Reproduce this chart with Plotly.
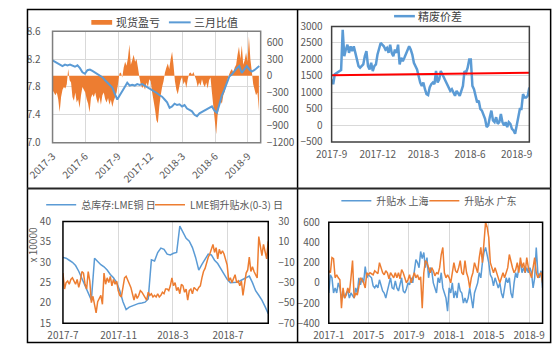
import pandas as pd
import plotly.graph_objects as go

W, H = 556, 352

# ---------------- Panel 1: 现货盈亏 (area, right axis) & 三月比值 (line, left axis)
spot_pl = [-260, -300, -350, -300, -420, -650, -380, -250, -200, -230, -150, 120, -80, -120, -380,
           -450, -300, -480, -420, -580, -350, -200, -250, -300, -420, -500, -660, -400, -330, -380,
           -300, -420, -500, -380, -520, -350, -300, -420, -480, -400, -520, -430, -560, -450, -380,
           -300, -150, 40, 60, -30, 150, 250, 180, 320, 560, 200, 280, 380, 250, 300,
           150, -20, -150, -220, -180, -250, -120, -200, -60, -100, -300, -450, -600, -800, -850,
           -550, -350, -200, -100, 60, 150, 220, 120, 300, 430, 200, -100, -250, -330, -200,
           -80, -20, -150, -100, -220, -60, 40, 60, 20, 70, -10, -80, -200, -120, -180,
           -60, -150, -200, -120, -230, -80, -30, -300, -550, -800, -1050, -700, -550, -450, -500,
           -350, -280, -150, -60, 20, 80, 120, 60, 150, 200, 380, 520, 300, 550, 200,
           280, 420, 250, 700, 300, 80, -150, -250, -350, -300, -630]
ratio_3m = [8.18, 8.16, 8.13, 8.11, 8.10, 8.12, 8.11, 8.12, 8.10, 8.09, 8.11, 8.07, 8.01, 7.99, 8.04,
            8.05, 8.03, 8.01, 7.98, 7.96, 7.94, 7.90, 7.86, 7.82, 7.79, 7.70, 7.62, 7.68, 7.75, 7.80,
            7.86, 7.82, 7.83, 7.82, 7.84, 7.83, 7.84, 7.82, 7.80, 7.78, 7.76, 7.73, 7.71, 7.68, 7.66,
            7.62, 7.58, 7.50, 7.52, 7.56, 7.54, 7.55, 7.52, 7.54, 7.49, 7.47, 7.45, 7.40, 7.38, 7.42,
            7.44, 7.46, 7.47, 7.50, 7.52, 7.46, 7.43, 7.55, 7.68, 7.76, 7.87, 7.95, 7.98, 8.03, 8.07,
            8.10, 8.00, 8.05, 8.10, 8.05, 8.02, 8.04, 8.07, 8.10]
p1_ticks = ['2017-03-01', '2017-06-01', '2017-09-01', '2017-12-01', '2018-03-01', '2018-06-01', '2018-09-01']
p1_ticktext = ['2017-3', '2017-6', '2017-9', '2017-12', '2018-3', '2018-6', '2018-9']

# ---------------- Panel 2: 精废价差
scrap_spread = [1400, 1250, 1550, 1580, 1600, 1650, 1680, 2900, 2100, 2300, 2450, 2200, 2400, 2250, 2400,
                2200, 2000, 1800, 1750, 1800, 1850, 2100, 2250, 1800, 1700, 1900, 1650, 1800, 1850, 2150,
                2300, 2500, 2450, 2400, 2300, 2350, 2200, 2450, 2200, 2100, 2300, 2200, 2450, 1850, 2050,
                1950, 2050, 2150, 2250, 2400, 2300, 2150, 1900, 1800, 1700, 1500, 1300, 1200, 1300, 1100,
                950, 920, 1150, 1250, 1300, 1250, 1650, 1300, 1400, 1650, 1550, 1450, 1300, 1200, 1100,
                1050, 1100, 1000, 900, 1050, 950, 900, 1050, 1200, 1650, 1600, 1750, 2000, 2000, 1200,
                1100, 900, 700, 750, 500, 450, 300, 200, -50, 0, 250, 450, 150, 100, 250,
                50, 100, 350, 100, 0, 100, -50, 100, 50, -100, -150, -250, 0, 300, 500,
                500, 950, 850, 850, 900, 1150]
trend_dates = ['2017-09-01', '2018-09-26']
trend_vals = [1525, 1600]
p2_ticks = ['2017-09-01', '2017-12-01', '2018-03-01', '2018-06-01', '2018-09-01']
p2_ticktext = ['2017-9', '2017-12', '2018-3', '2018-6', '2018-9']

# ---------------- Panel 3: 总库存:LME铜 (x10000, left) & LME铜升贴水(0-3) (right)
lme_stock = [31.2, 31.0, 30.5, 30.0, 29.2, 27.8, 26.0, 24.2, 22.3, 20.7, 31.0, 30.2, 29.4, 28.9, 28.1,
             27.0, 26.2, 25.0, 23.0, 20.3, 18.4, 19.0, 19.3, 19.7, 19.9, 20.0, 20.2, 21.0, 30.6, 30.3,
             32.4, 33.5, 33.2, 32.0, 31.8, 32.2, 32.4, 38.9, 37.5, 35.9, 35.2, 33.6, 31.2, 28.1, 29.5,
             30.8, 32.0, 31.8, 30.5, 29.7, 28.5, 27.0, 25.8, 25.0, 25.0, 25.1, 25.4, 25.8, 26.3, 26.6,
             25.0, 23.0, 21.9, 20.7, 19.1, 17.4]
lme_spread = [-20.6, -36.3, -30.0, -28.4, -31.6, -26.9, -25.3, -28.4, -31.6, -26.9, -34.7, -28.4, -19.1, -20.6, -31.6,
              -36.3, -19.1, -28.4, -49.7, -43.4, -51.3, -59.7, -48.8, -45.6, -42.5, -51.3, -20.6, -31.6, -25.3, -30.0,
              -23.8, -33.1, -26.9, -31.6, -28.4, -37.8, -42.5, -44.1, -34.7, -25.3, -23.8, -26.9, -31.6, -34.7, -40.9,
              -47.2, -40.9, -45.6, -42.5, -37.8, -39.4, -42.5, -45.6, -47.2, -39.4, -42.5, -40.9, -44.1, -42.5, -44.1,
              -40.9, -44.1, -42.5, -39.4, -40.9, -36.3, -36.3, -37.8, -33.1, -25.3, -33.1, -30.0, -37.8, -34.7, -40.9,
              -31.6, -33.1, -39.4, -36.3, -47.2, -37.8, -36.3, -40.9, -34.7, -36.3, -37.8, -34.7, -33.1, -25.3, -19.1,
              -16.0, -9.7, -5.0, -1.9, 2.8, 7.5, -0.3, 4.4, -6.6, 2.8, -1.9, 1.3, -1.9, -6.6, -12.8,
              -28.4, -25.3, -30.0, -25.3, -22.2, -30.0, -28.4, -33.1, -28.4, -42.5, -28.4, -20.6, -17.5, -5.0, -19.1,
              -14.4, -19.1, -22.2, -25.3, 15.3, 4.4, -3.4, 7.5, -0.3, -6.6, 10.6]
p3_ticks = ['2017-07-01', '2017-11-01', '2018-03-01', '2018-07-01']
p3_ticktext = ['2017-7', '2017-11', '2018-3', '2018-7']

# ---------------- Panel 4: 升贴水 上海 / 广东
basis_sh = [-100, 80, 50, -100, -50, -100, 0, -50, -150, -100, -150, -100, -80, -150, -100,
            -120, -150, -50, -100, 50, -20, 50, 0, 160, 50, 80, 60, 50, -30, -50,
            -20, -50, 30, -20, -80, -100, -150, -80, -20, 50, -50, -60, 20, -50, -80,
            0, 50, -80, -100, -60, 0, -20, 50, 0, 100, 230, 200, 150, 310, 240,
            300, 150, 250, 50, 150, 120, 0, -50, -100, 50, 0, 100, -50, -100, -150,
            -280, -50, -100, 0, -150, -80, -150, 0, -80, -100, -200, -150, -200, -150, -50,
            -150, -250, -100, -50, 0, 100, 50, 200, 300, 350, 280, 200, 80, 50, -30,
            50, 0, -50, 0, -100, -150, -50, 50, 0, 50, -100, -150, 0, 100, 50,
            150, 200, 100, 150, 100, 150, 100, 150, 100, -50, 50, 350, 100, 50, 120,
            -50]
basis_gd = [120, 100, 250, 240, 50, 80, 50, 30, -250, -50, -150, -120, -50, -100, 50,
            220, -150, -100, -120, -50, 50, 30, 0, -50, 100, 80, 100, 90, 80, 120,
            100, 90, 200, 150, 100, 80, 120, 100, 40, 100, 80, 50, 100, 50, 100,
            40, 130, 100, 50, 0, 30, 80, 0, 50, 100, 50, 80, 30, 60, -250,
            100, 220, 200, 150, 100, 150, 120, 70, 100, 90, 150, 280, 350, 100, 50,
            80, 50, 0, 100, 200, 120, 100, 150, 220, 100, 80, 220, 100, 50, -50,
            50, 100, 200, 150, 100, 250, 350, 200, 450, 600, 550, 450, 200, 150, 100,
            150, 100, 50, 0, 50, 100, 50, 100, 150, 280, 200, 150, 100, 130, 200,
            100, 250, 150, 200, 100, 250, 150, 100, 50, 150, 250, 100, 50, 80, 100,
            0]
p4_ticks = ['2017-01-01', '2017-05-01', '2017-09-01', '2018-01-01', '2018-05-01', '2018-09-01']
p4_ticktext = ['2017-1', '2017-5', '2017-9', '2018-1', '2018-5', '2018-9']

# ---------------- dates
d_spot = pd.date_range('2017-03-01', periods=len(spot_pl), freq='4D')
d_ratio = pd.date_range('2017-03-01', periods=len(ratio_3m), freq='7D')
d_scrap = pd.date_range('2017-09-01', '2018-09-26', periods=len(scrap_spread))
d_stock = pd.date_range('2017-07-01', '2018-09-28', periods=len(lme_stock))
d_lspread = pd.date_range('2017-07-01', '2018-09-28', periods=len(lme_spread))
d_sh = pd.date_range('2017-01-01', '2018-10-12', periods=len(basis_sh))
d_gd = pd.date_range('2017-01-01', '2018-10-12', periods=len(basis_gd))

BLUE = '#5B9BD5'
ORANGE = '#ED7D31'
GRID = '#D9D9D9'
TICK = '#595959'
FONT = 'Noto Sans CJK SC'


def xd(a, b):
    return [a / W, b / W]


def yd(top, bottom):
    return [1 - bottom / H, 1 - top / H]


fig = go.Figure()

# Panel 1
fig.add_trace(go.Scatter(x=d_spot, y=spot_pl, name='现货盈亏', mode='none', fill='tozeroy',
                         fillcolor=ORANGE, xaxis='x', yaxis='y', showlegend=False))
fig.add_trace(go.Scatter(x=d_ratio, y=ratio_3m, name='三月比值', mode='lines',
                         line=dict(color=BLUE, width=2), xaxis='x', yaxis='y2', showlegend=False))
# Panel 2
fig.add_trace(go.Scatter(x=d_scrap, y=scrap_spread, name='精废价差', mode='lines',
                         line=dict(color=BLUE, width=2.5), xaxis='x2', yaxis='y3', showlegend=False))
fig.add_trace(go.Scatter(x=trend_dates, y=trend_vals, mode='lines', showlegend=False,
                         line=dict(color='#FF0000', width=2), xaxis='x2', yaxis='y3'))
# Panel 3
fig.add_trace(go.Scatter(x=d_stock, y=lme_stock, name='总库存:LME铜 日', mode='lines',
                         line=dict(color=BLUE, width=1.5), xaxis='x3', yaxis='y4', legend='legend'))
fig.add_trace(go.Scatter(x=d_lspread, y=lme_spread, name='LME铜升贴水(0-3) 日', mode='lines',
                         line=dict(color=ORANGE, width=1.5), xaxis='x3', yaxis='y5', legend='legend2'))
# Panel 4
fig.add_trace(go.Scatter(x=d_sh, y=basis_sh, name='升贴水 上海', mode='lines',
                         line=dict(color=BLUE, width=1.5), xaxis='x4', yaxis='y6', legend='legend3'))
fig.add_trace(go.Scatter(x=d_gd, y=basis_gd, name='升贴水 广东', mode='lines',
                         line=dict(color=ORANGE, width=1.5), xaxis='x4', yaxis='y6', legend='legend4'))

tickfont = dict(family=FONT, size=10, color=TICK)


def xax(dom, anchor, rng, tv, tt, grid, angle=0):
    return dict(domain=dom, anchor=anchor, type='date', range=rng, tickvals=tv, ticktext=tt,
                showgrid=grid, gridcolor=GRID, gridwidth=1, tickangle=angle, ticks='',
                tickfont=tickfont, showline=False, zeroline=False, ticklabelstandoff=5)


def yax(dom, anchor, rng, tv, grid, side='left', overlaying=None, standoff=8, fmt=''):
    d = dict(domain=dom, anchor=anchor, range=rng, tickvals=tv, showgrid=grid, gridcolor=GRID,
             side=side, ticks='', tickfont=tickfont, showline=False, zeroline=False,
             ticklabelstandoff=standoff, tickformat=fmt)
    if overlaying:
        d['overlaying'] = overlaying
        d.pop('domain')
    return d


fig.update_layout(
    width=W, height=H, margin=dict(l=0, r=0, t=0, b=0),
    paper_bgcolor='white', plot_bgcolor='white',
    xaxis=xax(xd(27, 247), 'y', ['2017-03-01', '2018-10-07'], p1_ticks, p1_ticktext, True, -45),
    yaxis=yax(yd(23.3, 140), 'x', [-1200, 800], [-1200, -900, -600, -300, 0, 300, 600], False,
              side='right', standoff=5),
    yaxis2=yax(None, 'x', [7.0, 8.6], [7.0, 7.4, 7.8, 8.2, 8.6], True, side='left',
               overlaying='y', standoff=11, fmt='.1f'),
    xaxis2=xax(xd(322, 531), 'y3', ['2017-09-01', '2018-09-26'], p2_ticks, p2_ticktext, False),
    yaxis3=yax(yd(18.3, 139.3), 'x2', [-500, 3000], [-500, 0, 500, 1000, 1500, 2000, 2500, 3000],
               True, standoff=8),
    xaxis3=xax(xd(38, 255), 'y4', ['2017-07-01', '2018-09-28'], p3_ticks, p3_ticktext, True),
    yaxis4=yax(yd(222.7, 329.3), 'x3', [15, 40], [15, 20, 25, 30, 35, 40], False, standoff=11),
    yaxis5=yax(None, 'x3', [-70, 30], [-70, -50, -30, -10, 10, 30], False, side='right',
               overlaying='y4', standoff=9),
    xaxis4=xax(xd(319, 545), 'y6', ['2017-01-01', '2018-10-12'], p4_ticks, p4_ticktext, True),
    yaxis6=yax(yd(223.3, 329.3), 'x4', [-400, 600], [-400, -200, 0, 200, 400, 600], False,
               standoff=8),
)

# bottom panels: one plotly legend per item (x given as legend-box left in px)
legfont = dict(family=FONT, size=10, color=TICK)
common = dict(orientation='h', xanchor='left', yanchor='middle', bgcolor='rgba(0,0,0,0)',
              itemwidth=30, tracegroupgap=0)
leg_pos = {
    'legend': (15, 205),
    'legend2': (130, 205),
    'legend3': (327, 201),
    'legend4': (420, 201),
}
for key, (lx, ly) in leg_pos.items():
    fig.update_layout({key: dict(x=lx / W, y=1 - ly / H, font=legfont, **common)})

# top panels: legend keys drawn as swatch + text (the plotly legend box cannot reach the top edge)
legfont_dark = dict(family=FONT, size=11, color='#404040')
fig.add_shape(type='rect', xref='paper', yref='paper', x0=68 / W, x1=90 / W,
              y0=1 - 16.5 / H, y1=1 - 11.5 / H, line=dict(width=0), fillcolor=ORANGE)
fig.add_annotation(text='现货盈亏', xref='paper', yref='paper', x=92 / W, y=1 - 14 / H,
                   xanchor='left', yanchor='middle', showarrow=False, font=legfont_dark)
fig.add_shape(type='line', xref='paper', yref='paper', x0=150 / W, x1=173 / W,
              y0=1 - 14 / H, y1=1 - 14 / H, line=dict(color=BLUE, width=2))
fig.add_annotation(text='三月比值', xref='paper', yref='paper', x=174 / W, y=1 - 14 / H,
                   xanchor='left', yanchor='middle', showarrow=False, font=legfont_dark)
fig.add_shape(type='line', xref='paper', yref='paper', x0=388 / W, x1=410 / W,
              y0=1 - 7.5 / H, y1=1 - 7.5 / H, line=dict(color=BLUE, width=2.5))
fig.add_annotation(text='精废价差', xref='paper', yref='paper', x=411 / W, y=1 - 7.5 / H,
                   xanchor='left', yanchor='middle', showarrow=False, font=legfont_dark)

# plot frames
frames = [('x', 'y', '#7F7F7F'), ('x2', 'y3', '#404040'), ('x3', 'y4', '#000000'), ('x4', 'y6', '#000000')]
for xa, ya, col in frames:
    fig.add_shape(type='rect', xref=xa + ' domain', yref=ya + ' domain', x0=0, x1=1, y0=0, y1=1,
                  line=dict(color=col, width=1.5), fillcolor='rgba(0,0,0,0)', layer='above')

# outer border and dividers
fig.add_shape(type='rect', xref='paper', yref='paper', x0=0.5 / W, x1=553.5 / W,
              y0=1 - 349.5 / H, y1=1 - 0.5 / H, line=dict(color='black', width=1.5))
fig.add_shape(type='line', xref='paper', yref='paper', x0=286 / W, x1=286 / W,
              y0=1 - 349.5 / H, y1=1, line=dict(color='black', width=1.5))
fig.add_shape(type='line', xref='paper', yref='paper', x0=0, x1=553.5 / W,
              y0=1 - 188 / H, y1=1 - 188 / H, line=dict(color='#262626', width=2))

fig.add_annotation(text='x 10000', xref='paper', yref='paper', x=6 / W, y=1 - 247 / H,
                   xanchor='center', yanchor='middle', textangle=-90, showarrow=False,
                   font=dict(family=FONT, size=10, color=TICK))

fig.write_html('out.html')
